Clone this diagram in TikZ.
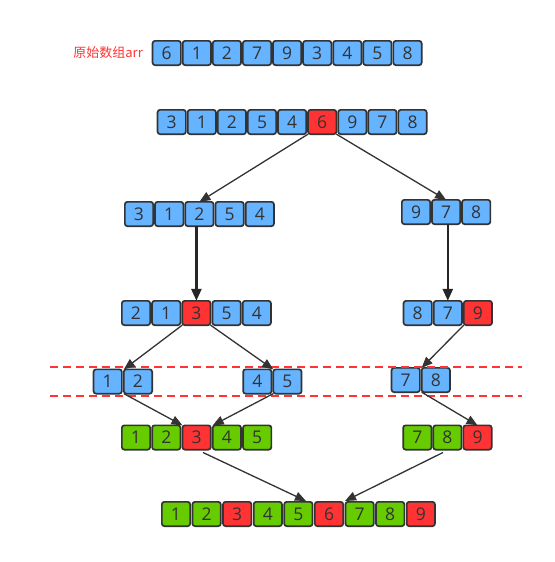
\documentclass[tikz,border=0pt]{standalone}
\usepackage{fontspec}
\setmainfont{Open Sans}
\newfontfamily\cjk{Noto Sans CJK SC}
\usetikzlibrary{arrows.meta}
\definecolor{cblue}{HTML}{66B3FF}
\definecolor{cred}{HTML}{FF3333}
\definecolor{cgreen}{HTML}{66CC00}
\definecolor{cborder}{HTML}{333333}
\definecolor{cline}{HTML}{333333}
\definecolor{ctext}{HTML}{333333}
\begin{document}
\begin{tikzpicture}[x=1pt,y=-1pt,
  cell/.style={draw=cborder, line width=1.7pt, rounded corners=2.5pt,
    minimum width=28.3pt, minimum height=24.3pt, inner sep=0pt, outer sep=0pt,
    text=ctext, font=\fontsize{17.5}{17.5}\selectfont},
  conn/.style={draw=cline, line width=1.3pt, -{Triangle[length=11pt,width=9pt]}},
  thickconn/.style={draw=black!85, line width=2.6pt, -{Triangle[length=12pt,width=10pt]}},
  cut/.style={draw=cred, line width=1.3pt, dash pattern=on 8pt off 5pt}]
\useasboundingbox (0,0) rectangle (554,562);

% label
\node[text=cred, font=\cjk\fontsize{13}{13}\selectfont, anchor=east, inner sep=0pt] (lbl) at (143,53) {原始数组arr};

% row 0
\foreach \v/\c [count=\i from 0] in {6/cblue,1/cblue,2/cblue,7/cblue,9/cblue,3/cblue,4/cblue,5/cblue,8/cblue}
  \node[cell,fill=\c] (r0-\i) at ({151.7+15+\i*30.1},53) {\v};
% row 1
\foreach \v/\c [count=\i from 0] in {3/cblue,1/cblue,2/cblue,5/cblue,4/cblue,6/cred,9/cblue,7/cblue,8/cblue}
  \node[cell,fill=\c] (r1-\i) at ({156.7+15+\i*30.1},122) {\v};
% row 2
\foreach \v/\c [count=\i from 0] in {3/cblue,1/cblue,2/cblue,5/cblue,4/cblue}
  \node[cell,fill=\c] (r2a-\i) at ({124+15+\i*30.2},214) {\v};
\foreach \v/\c [count=\i from 0] in {9/cblue,7/cblue,8/cblue}
  \node[cell,fill=\c] (r2b-\i) at ({401+15+\i*30.1},212) {\v};
% row 3
\foreach \v/\c [count=\i from 0] in {2/cblue,1/cblue,3/cred,5/cblue,4/cblue}
  \node[cell,fill=\c] (r3a-\i) at ({121+15+\i*30.2},313) {\v};
\foreach \v/\c [count=\i from 0] in {8/cblue,7/cblue,9/cred}
  \node[cell,fill=\c] (r3b-\i) at ({402.7+15+\i*30.1},313) {\v};
% row 4
\foreach \v/\c [count=\i from 0] in {1/cblue,2/cblue}
  \node[cell,fill=\c] (r4a-\i) at ({92.7+15+\i*30.3},381.5) {\v};
\foreach \v/\c [count=\i from 0] in {4/cblue,5/cblue}
  \node[cell,fill=\c] (r4b-\i) at ({242.3+15+\i*30.1},381.5) {\v};
\foreach \v/\c [count=\i from 0] in {7/cblue,8/cblue}
  \node[cell,fill=\c] (r4c-\i) at ({390.7+15+\i*30.1},380) {\v};
% row 5
\foreach \v/\c [count=\i from 0] in {1/cgreen,2/cgreen,3/cred,4/cgreen,5/cgreen}
  \node[cell,fill=\c] (r5a-\i) at ({121+15+\i*30.3},437.5) {\v};
\foreach \v/\c [count=\i from 0] in {7/cgreen,8/cgreen,9/cred}
  \node[cell,fill=\c] (r5b-\i) at ({402.3+15+\i*30.1},437.5) {\v};
% row 6
\foreach \v/\c [count=\i from 0] in {1/cgreen,2/cgreen,3/cred,4/cgreen,5/cgreen,6/cred,7/cgreen,8/cgreen,9/cred}
  \node[cell,fill=\c] (r6-\i) at ({161+15+\i*30.6},514) {\v};

% dashed cut lines
\coordinate (d1a) at (50,367);
\coordinate (d1b) at (522,367);
\coordinate (d2a) at (50,396);
\coordinate (d2b) at (522,396);
\draw[cut] (d1a) -- (d1b);
\draw[cut] (d2a) -- (d2b);

% connectors
\draw[conn] (r1-5.south west) -- (r2a-2.north);
\draw[conn] (r1-5.south east) -- (r2b-1.north);
\draw[thickconn] (r3a-2.north |- r2a-2.south) -- (r3a-2.north);
\draw[thickconn] (r3b-1.north |- r2b-1.south) -- (r3b-1.north);
\draw[conn] (r3a-2.south west) -- (r4a-1.north west);
\draw[conn] (r3a-2.south east) -- (r4b-1.north west);
\draw[conn] (r3b-2.south west) -- (r4c-1.north west);
\draw[conn] (r4a-1.south west) -- (r5a-2.north west);
\draw[conn] (r4b-1.south west) -- (r5a-3.north west);
\draw[conn] (r4c-1.south west) -- (r5b-2.north);
\coordinate (s1) at (203,452.5);
\coordinate (e1) at (306,501);
\coordinate (s2) at (443,452.5);
\coordinate (e2) at (345,501);
\draw[conn] (s1) -- (e1);
\draw[conn] (s2) -- (e2);
\end{tikzpicture}
\end{document}
